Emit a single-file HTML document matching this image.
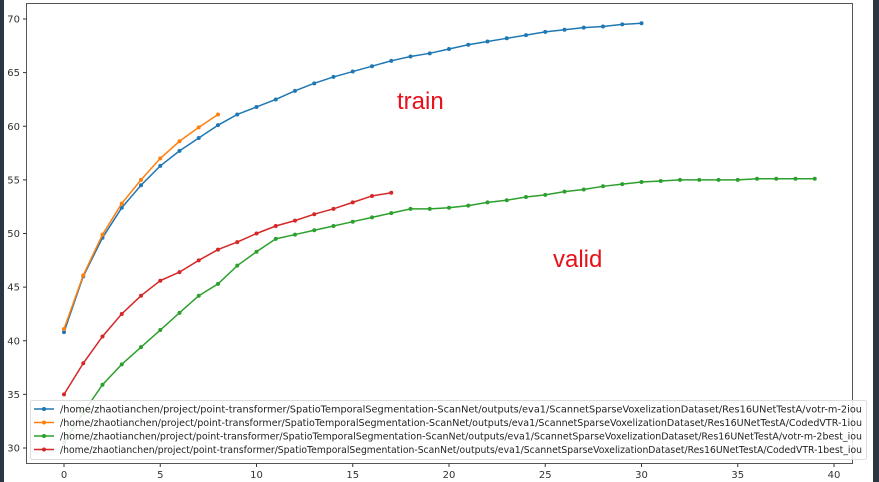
<!DOCTYPE html>
<html><head><meta charset="utf-8"><style>
html,body{margin:0;padding:0;background:#fff;}
svg{display:block;font-family:"DejaVu Sans","Liberation Sans",sans-serif;}
</style></head><body>
<svg id="chart" width="879" height="482">
<rect x="0" y="0" width="4" height="482" fill="#2b3645"/>
<rect x="873" y="0" width="6" height="482" fill="#2b3645"/>
<g id="plot"></g>
</svg>
<script>
const xTicks=[0,5,10,15,20,25,30,35,40];
const yTicks=[30,35,40,45,50,55,60,65,70];
const blue=[40.8,46,49.6,52.4,54.5,56.3,57.7,58.9,60.1,61.1,61.8,62.5,63.3,64,64.6,65.1,65.6,66.1,66.5,66.8,67.2,67.6,67.9,68.2,68.5,68.8,69,69.2,69.3,69.5,69.6];
const orange=[41.1,46.1,49.9,52.8,55,57,58.6,59.9,61.1];
const green=[30.5,33.3,35.9,37.8,39.4,41,42.6,44.2,45.3,47,48.3,49.5,49.9,50.3,50.7,51.1,51.5,51.9,52.3,52.3,52.4,52.6,52.9,53.1,53.4,53.6,53.9,54.1,54.4,54.6,54.8,54.9,55,55,55,55,55.1,55.1,55.1,55.1];
const red=[35,37.9,40.4,42.5,44.2,45.6,46.4,47.5,48.5,49.2,50,50.7,51.2,51.8,52.3,52.9,53.5,53.8];
const legendLabels=[
"/home/zhaotianchen/project/point-transformer/SpatioTemporalSegmentation-ScanNet/outputs/eva1/ScannetSparseVoxelizationDataset/Res16UNetTestA/votr-m-2iou",
"/home/zhaotianchen/project/point-transformer/SpatioTemporalSegmentation-ScanNet/outputs/eva1/ScannetSparseVoxelizationDataset/Res16UNetTestA/CodedVTR-1iou",
"/home/zhaotianchen/project/point-transformer/SpatioTemporalSegmentation-ScanNet/outputs/eva1/ScannetSparseVoxelizationDataset/Res16UNetTestA/votr-m-2best_iou",
"/home/zhaotianchen/project/point-transformer/SpatioTemporalSegmentation-ScanNet/outputs/eva1/ScannetSparseVoxelizationDataset/Res16UNetTestA/CodedVTR-1best_iou"];
const NS="http://www.w3.org/2000/svg";
const g=document.getElementById('plot');
const X=v=>64+v*19.25;
const Y=v=>448-(v-30)*10.725;
function mk(t,a,p){const e=document.createElementNS(NS,t);for(const k in a)e.setAttribute(k,a[k]);(p||g).appendChild(e);return e;}
const frame=mk('rect',{x:26.5,y:3.5,width:826,height:460,fill:'#fff',stroke:'#555','stroke-width':1});


xTicks.forEach(v=>{
 const l=mk('line',{x1:X(v),x2:X(v),y1:463.5,y2:467,stroke:'#333'});
 
 
 const t=mk('text',{x:X(v),y:478,'font-size':10,'text-anchor':'middle',fill:'#333'});t.textContent=v;
 
 
});
yTicks.forEach(v=>{
 const l=mk('line',{x1:23,x2:26.5,y1:Y(v),y2:Y(v),stroke:'#333'});
 
 
 const t=mk('text',{x:20,y:Y(v)+3.5,'font-size':10,'text-anchor':'end',fill:'#333'});t.textContent=v;
 
 
});
const series=[[blue,'#1f77b4','series-votr-iou'],[orange,'#ff7f0e','series-codedvtr-iou'],[green,'#2ca02c','series-votr-best-iou'],[red,'#d62728','series-codedvtr-best-iou']];
series.forEach(([d,c,n])=>{
 const sg=mk('g',{});
 
 
 mk('polyline',{points:d.map((v,i)=>X(i)+','+Y(v)).join(' '),fill:'none',stroke:c,'stroke-width':1.5},sg);
 d.forEach((v,i)=>{const p=mk('circle',{cx:X(i),cy:Y(v),r:2,fill:c},sg);
  
  });
});
const lg=mk('g',{});


mk('rect',{x:30.5,y:400.5,width:836,height:59,rx:2,fill:'rgba(255,255,255,0.85)',stroke:'#ddd'},lg);
series.forEach(([d,c],i)=>{
 const yy=409+i*13.5;
 mk('line',{x1:34,x2:54,y1:yy,y2:yy,stroke:c,'stroke-width':1.5},lg);
 mk('circle',{cx:44,cy:yy,r:2,fill:c},lg);
 const t=mk('text',{x:60,y:yy+3.5,'font-size':10,fill:'#222',textLength:802,lengthAdjust:'spacingAndGlyphs'},lg);
 t.textContent=legendLabels[i];
 
 
});
const a1=mk('text',{x:397,y:109,'font-size':24,fill:'#e8101a','font-family':'Liberation Sans, sans-serif'});a1.textContent='train';


const a2=mk('text',{x:553,y:267,'font-size':24,fill:'#e8101a','font-family':'Liberation Sans, sans-serif'});a2.textContent='valid';


</script>
</body></html>
